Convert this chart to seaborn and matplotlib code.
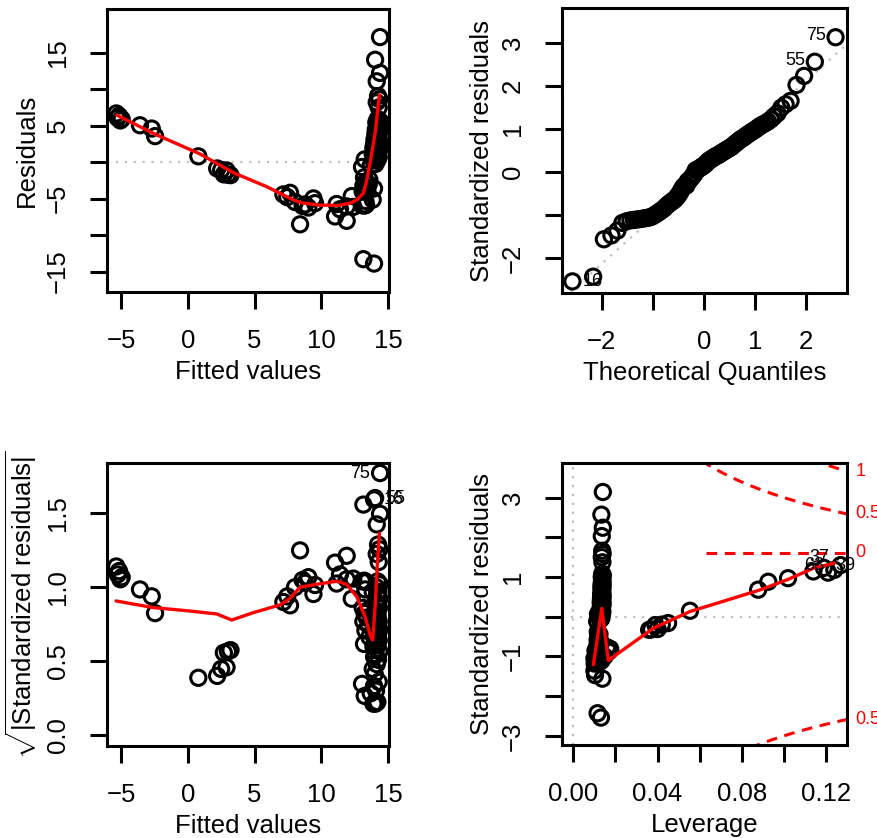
import numpy as np
import pandas as pd
import matplotlib
matplotlib.use("Agg")
import matplotlib.pyplot as plt
import matplotlib.transforms as mtransforms
import seaborn as sns
from statistics import NormalDist

# ---------------- data ----------------
# groups: A(-5), B(-3..-2), C(0.8), D(2-3), E(7-9.5), F(11-12.4), outliers, G(column 13-14.4)
fitted = [
    -5.35, -5.15, -5.25, -4.95, -5.05,
    -3.58, -2.70, -2.45,
    0.79,
    2.2, 2.5, 2.9, 2.7, 3.0, 3.2,
    7.16, 7.66, 7.45, 8.03, 8.41, 8.78, 9.03, 9.41, 9.53, 8.60,
    11.15, 11.03, 11.40, 11.90, 11.90, 12.28, 12.40,
    13.95, 13.15,
    13.22, 13.05, 13.35, 13.30, 13.85, 13.10, 13.45, 13.25, 13.95, 13.40,
    13.15, 13.55, 13.30, 13.60, 13.20, 13.05, 13.70, 14.05, 13.90, 14.20,
    13.25, 14.10, 13.95, 14.30,
    14.00, 13.85, 14.15, 14.25, 13.95, 14.05, 14.35, 14.10, 13.90, 14.20,
    14.00, 14.30, 14.15, 13.95, 14.25, 14.05, 14.35, 14.10, 14.20, 13.98,
    14.30, 14.12, 14.22,
    14.05, 14.32, 14.15, 14.25, 14.08, 14.35, 14.18, 14.28, 14.12, 14.38, 14.22,
    14.30, 14.15, 14.35, 14.25, 14.15, 14.40, 14.03, 14.40,
]
residuals = [
    6.68, 6.35, 6.07, 5.90, 5.72,
    5.06, 4.61, 3.57,
    0.80,
    -0.86, -1.08, -1.13, -1.67, -1.72, -1.78,
    -4.42, -4.20, -4.80, -5.46, -8.52, -5.79, -6.22, -4.97, -5.62, -6.00,
    -5.74, -7.44, -6.45, -8.04, -6.07, -4.65, -6.13,
    -13.90, -13.30,
    -5.96, -5.90, -5.85, -5.30, -5.14, -4.04, -3.88, -3.72, -3.61, -3.44,
    -3.22, -3.01, -2.73, -2.40, -2.08, -0.66, -0.44, -0.25, 0.25, 0.27,
    0.38, 0.49, 0.60, 0.71,
    0.93, 1.09, 1.26, 1.42, 1.53, 1.64, 1.75, 1.86, 1.97, 2.08,
    2.13, 2.24, 2.35, 2.46, 2.57, 2.68, 2.79, 2.90, 3.00, 3.11,
    3.22, 3.39, 3.55,
    3.88, 4.04, 4.21, 4.32, 4.48, 4.64, 4.97, 5.14, 5.46, 5.68, 5.90,
    7.49, 8.20, 8.63, 9.07, 11.09, 12.24, 14.04, 17.15,
]
std_resid = [
    1.30, 1.23, 1.18, 1.14, 1.11,
    0.97, 0.88, 0.68,
    0.15,
    -0.16, -0.20, -0.21, -0.31, -0.32, -0.33,
    -0.81, -0.77, -0.88, -1.00, -1.56, -1.06, -1.14, -0.91, -1.03, -1.10,
    -1.05, -1.36, -1.18, -1.47, -1.11, -0.85, -1.12,
    -2.54, -2.43,
    -1.09, -1.08, -1.07, -0.97, -0.94, -0.74, -0.71, -0.68, -0.66, -0.63,
    -0.59, -0.55, -0.50, -0.44, -0.38, -0.12, -0.08, -0.045, 0.045, 0.05,
    0.07, 0.09, 0.11, 0.13,
    0.17, 0.20, 0.23, 0.26, 0.28, 0.30, 0.32, 0.34, 0.36, 0.38,
    0.39, 0.41, 0.43, 0.45, 0.47, 0.49, 0.51, 0.53, 0.55, 0.57,
    0.59, 0.62, 0.65,
    0.71, 0.74, 0.77, 0.79, 0.82, 0.85, 0.91, 0.94, 1.00, 1.04, 1.08,
    1.37, 1.50, 1.58, 1.66, 2.03, 2.24, 2.57, 3.14,
]
leverage = [
    0.127, 0.119, 0.124, 0.114, 0.121,
    0.102, 0.0926, 0.0878,
    0.0554,
    0.045, 0.042, 0.039, 0.040, 0.037, 0.036,
    0.0175, 0.0160, 0.0168, 0.0148, 0.0138, 0.0130, 0.0125, 0.0120, 0.0118, 0.0134,
    0.0100, 0.0100, 0.0101, 0.0103, 0.0103, 0.0105, 0.0106,
    0.0131, 0.0115,
    0.0116, 0.0113, 0.0119, 0.0118, 0.0129, 0.0114, 0.0121, 0.0117, 0.0131, 0.0120,
    0.0115, 0.0123, 0.0118, 0.0124, 0.0116, 0.0113, 0.0126, 0.0133, 0.0130, 0.0136,
    0.0117, 0.0134, 0.0131, 0.0138,
    0.0132, 0.0129, 0.0135, 0.0137, 0.0131, 0.0133, 0.0139, 0.0134, 0.0130, 0.0136,
    0.0132, 0.0138, 0.0135, 0.0131, 0.0137, 0.0133, 0.0139, 0.0134, 0.0136, 0.0132,
    0.0138, 0.0135, 0.0137,
    0.0133, 0.0139, 0.0135, 0.0137, 0.0134, 0.0139, 0.0136, 0.0138, 0.0135, 0.0140, 0.0137,
    0.0138, 0.0135, 0.0139, 0.0137, 0.0135, 0.0140, 0.0133, 0.0140,
]

# red smoother curves
p1_smooth_x = [-5.32, -2.58, 0.92, 3.41, 5.91, 7.91, 8.6, 9.91, 10.66, 11.2, 12.15, 12.65, 13.15, 13.35, 13.65, 14.03, 14.35]
p1_smooth_y = [6.46, 3.95, 1.12, -1.44, -3.36, -5.18, -5.6, -5.9, -5.9, -5.95, -5.63, -5.18, -4.26, -2.9, -0.15, 3.96, 9.2]
p3_smooth_x = [-5.37, -2.58, -0.08, 2.17, 3.29, 4.91, 6.91, 7.66, 8.41, 9.66, 11.15, 11.9, 12.65, 13.28, 13.7, 13.85, 14.03, 14.2, 14.35]
p3_smooth_y = [0.907, 0.862, 0.841, 0.819, 0.778, 0.828, 0.88, 0.925, 1.0, 1.02, 1.04, 1.02, 0.936, 0.80, 0.665, 0.643, 0.868, 1.16, 1.364]
p4_smooth_x = [0.0095, 0.0135, 0.0166, 0.038, 0.0554, 0.0887, 0.102, 0.114, 0.124]
p4_smooth_y = [-1.21, 0.21, -1.1, -0.29, 0.13, 0.675, 0.94, 1.22, 1.35]

# Cook's distance contours
cook_levels = [0.5, 1.0]
n_params = 2
cook_zero_y = 1.61
cook_zero_start = 0.063

# point labels
qq_labels = {"75": 3.14, "55": 2.57, "16": -2.54}
lev_labels = [("63", 0.1142, 1.28), ("37", 0.1166, 1.48), ("39", 0.1293, 1.28)]

# ---------------- style ----------------
sns.set_theme(style="white")
plt.rcParams["font.family"] = ["Liberation Sans", "DejaVu Sans"]
plt.rcParams["mathtext.fontset"] = "custom"
plt.rcParams["mathtext.rm"] = "Liberation Sans"
plt.rcParams["mathtext.it"] = "Liberation Sans:italic"
plt.rcParams["mathtext.bf"] = "Liberation Sans:bold"
plt.rcParams["axes.unicode_minus"] = True
plt.rcParams["text.color"] = "black"
plt.rcParams["axes.labelcolor"] = "black"
plt.rcParams["xtick.color"] = "black"
plt.rcParams["ytick.color"] = "black"

FS = 18.5
LW = 2.2
GREY = "#BEBEBE"
LFS = 13

df = pd.DataFrame({"fitted": fitted, "resid": residuals, "std": std_resid, "lev": leverage})
df["sqrt_abs"] = np.sqrt(np.abs(df["std"]))

fig = plt.figure(figsize=(8.77, 8.38), dpi=100)
W, H = 877, 838
def add_ax(x0, y0, x1, y1):
    return fig.add_axes([x0 / W, 1 - y1 / H, (x1 - x0) / W, (y1 - y0) / H])

ax1 = add_ax(107, 9, 389, 292)
ax2 = add_ax(562, 8, 847, 293)
ax3 = add_ax(107, 463, 389, 746)
ax4 = add_ax(562, 463, 847, 745)

def style(ax, xlim, ylim, xt, xtl, yt, ytl, xlabel, ylabel):
    ax.set_xlim(xlim)
    ax.set_ylim(ylim)
    ax.set_xticks(xt)
    ax.set_xticklabels(xtl)
    ax.set_yticks(yt)
    ax.set_yticklabels(ytl)
    for s in ax.spines.values():
        s.set_visible(True)
        s.set_linewidth(LW)
        s.set_color("black")
    ax.tick_params(direction="out", length=12.5, width=LW, pad=14,
                   labelsize=FS, colors="black", bottom=True, left=True)
    ax.tick_params(axis="y", labelrotation=90)
    for lab in ax.get_yticklabels():
        lab.set_va("center")
    ax.set_xlabel(xlabel, fontsize=FS, labelpad=5, color="black")
    ax.set_ylabel(ylabel, fontsize=FS, labelpad=5, color="black")
    ax.grid(False)

def pts(ax, x, y):
    sns.scatterplot(x=x, y=y, ax=ax, marker="o", s=120, facecolor="none",
                    edgecolor="black", linewidth=2.2, zorder=3, legend=False)

def smooth(ax, x, y):
    sns.lineplot(x=x, y=y, ax=ax, color="red", linewidth=2.4, sort=False,
                 estimator=None, zorder=4, legend=False)

M = "\u2212"

# ---- Panel 1: Residuals vs Fitted ----
ax1.axhline(0, color=GREY, linestyle=(0, (1, 3)), linewidth=1.6, zorder=1)
pts(ax1, df["fitted"], df["resid"])
smooth(ax1, p1_smooth_x, p1_smooth_y)
style(ax1, (-6.05, 15.07), (-17.8, 21.0),
      [-5, 0, 5, 10, 15], [M + "5", "0", "5", "10", "15"],
      [-15, -10, -5, 0, 5, 10, 15], [M + "15", "", M + "5", "", "5", "", "15"],
      "Fitted values", "Residuals")

# ---- Panel 2: Normal Q-Q ----
n = len(std_resid)
nd = NormalDist()
theo = np.array([nd.inv_cdf((i + 0.5) / n) for i in range(n)])
samp = np.sort(np.array(std_resid))
q1, q3 = np.quantile(samp, [0.25, 0.75])
slope = (q3 - q1) / (nd.inv_cdf(0.75) - nd.inv_cdf(0.25))
inter = q1 - slope * nd.inv_cdf(0.25)
xx = np.array([-3.0, 3.0])
ax2.plot(xx, inter + slope * xx, color=GREY, linestyle=(0, (1, 3)), linewidth=1.6, zorder=1)
pts(ax2, theo, samp)
for lab, v in qq_labels.items():
    idx = int(np.argmin(np.abs(samp - v)))
    if theo[idx] > 0:
        ax2.annotate(lab, (theo[idx], samp[idx]), xytext=(-7, 1), textcoords="offset points",
                     ha="right", va="center", fontsize=LFS, color="black")
    else:
        ax2.annotate(lab, (theo[idx], samp[idx]), xytext=(7, 0), textcoords="offset points",
                     ha="left", va="center", fontsize=LFS, color="black")
style(ax2, (-2.78, 2.80), (-2.81, 3.82),
      [-2, -1, 0, 1, 2], [M + "2", "", "0", "1", "2"],
      [-2, -1, 0, 1, 2, 3], [M + "2", "", "0", "1", "2", "3"],
      "Theoretical Quantiles", "Standardized residuals")

# ---- Panel 3: Scale-Location ----
pts(ax3, df["fitted"], df["sqrt_abs"])
smooth(ax3, p3_smooth_x, p3_smooth_y)
i75 = int(np.argmax(df["std"]))
ax3.annotate("75", (df["fitted"][i75], df["sqrt_abs"][i75]), xytext=(-7, 0),
             textcoords="offset points", ha="right", va="center", fontsize=LFS, color="black")
for lab in ["55", "16"]:
    idx = int(np.argmin(np.abs(df["std"] - qq_labels[lab])))
    ax3.annotate(lab, (df["fitted"][idx], df["sqrt_abs"][idx]), xytext=(7, 0),
                 textcoords="offset points", ha="left", va="center", fontsize=LFS,
                 color="black", annotation_clip=False)
style(ax3, (-6.05, 15.07), (-0.074, 1.84),
      [-5, 0, 5, 10, 15], [M + "5", "0", "5", "10", "15"],
      [0.0, 0.5, 1.0, 1.5], ["0.0", "0.5", "1.0", "1.5"],
      "Fitted values", r"$\sqrt{|\mathrm{Standardized\ residuals}|}$")

# ---- Panel 4: Residuals vs Leverage ----
xl4 = (-0.0054, 0.130)
yl4 = (-3.23, 3.87)
ax4.axhline(0, color=GREY, linestyle=(0, (1, 3)), linewidth=1.6, zorder=1)
ax4.axvline(0, color=GREY, linestyle=(0, (1, 3)), linewidth=1.6, zorder=1)
pts(ax4, df["lev"], df["std"])
smooth(ax4, p4_smooth_x, p4_smooth_y)
hh = np.linspace(0.0005, 0.14, 400)
trans = mtransforms.blended_transform_factory(ax4.transAxes, ax4.transData)
for lvl in cook_levels:
    yy = np.sqrt(lvl * n_params * (1 - hh) / hh)
    for sgn in (1, -1):
        ax4.plot(hh, sgn * yy, color="red", linestyle=(0, (3.5, 2.5)), linewidth=2.2, zorder=2)
        yr = sgn * np.sqrt(lvl * n_params * (1 - xl4[1]) / xl4[1])
        if yl4[0] < yr < yl4[1]:
            ax4.annotate(f"{lvl:g}", (1, yr), xycoords=trans, xytext=(6, 0),
                         textcoords="offset points", ha="left", va="center",
                         color="red", fontsize=LFS, annotation_clip=False)
ax4.plot([cook_zero_start, 0.14], [cook_zero_y, cook_zero_y], color="red",
         linestyle=(0, (3.5, 2.5)), linewidth=2.2, zorder=2)
ax4.annotate("0", (1, cook_zero_y), xycoords=trans, xytext=(6, 0),
             textcoords="offset points", ha="left", va="center",
             color="red", fontsize=LFS, annotation_clip=False)
for lab, hx, yv in lev_labels:
    ax4.text(hx, yv, lab, ha="center", va="center", fontsize=LFS, zorder=5,
             clip_on=False, color="black")
style(ax4, xl4, yl4,
      [0.00, 0.02, 0.04, 0.06, 0.08, 0.10, 0.12],
      ["0.00", "", "0.04", "", "0.08", "", "0.12"],
      [-3, -2, -1, 0, 1, 2, 3], [M + "3", "", M + "1", "", "1", "", "3"],
      "Leverage", "Standardized residuals")

fig.savefig("out.png", dpi=100)
